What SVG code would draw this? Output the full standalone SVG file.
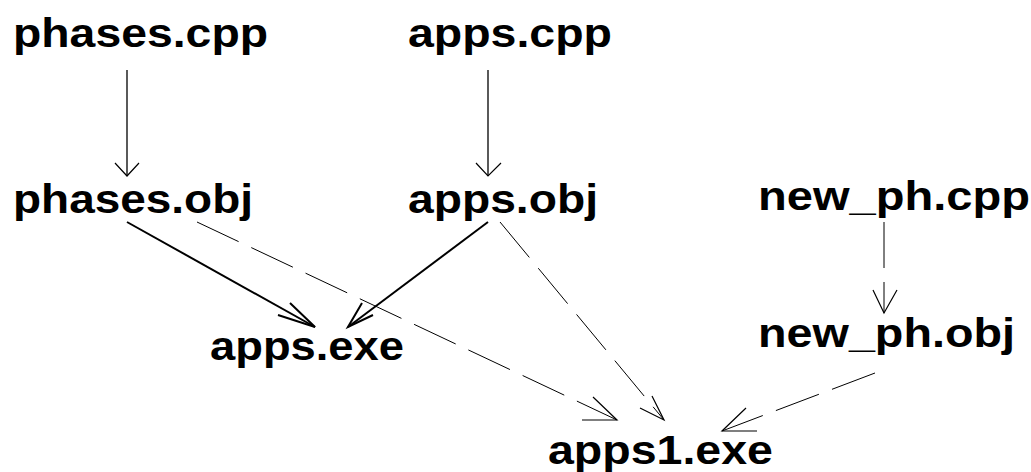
<svg xmlns="http://www.w3.org/2000/svg" width="1031" height="472" viewBox="0 0 1031 472">
<style>
  text { font-family: "Liberation Sans", Arial, sans-serif; font-weight: bold; font-size: 40px; fill: #000; }
  .solid { stroke: #000; stroke-width: 1.3; fill: none; }
  .thick { stroke: #000; stroke-width: 2; fill: none; }
  .dash { stroke: #000; stroke-width: 1; fill: none; stroke-dasharray: 46 14; }
  .head { stroke: #000; stroke-width: 1.2; fill: none; }
</style>
<rect width="1031" height="472" fill="#fff"/>
<g id="connectors">
  <line class="solid" x1="127" y1="70" x2="127" y2="176"/>
  <polyline class="head" points="115,163 127,176 139,163"/>
  <line class="solid" x1="488" y1="70" x2="488" y2="176"/>
  <polyline class="head" points="476,163 488,176 501,163"/>
  <line class="dash" x1="884" y1="222" x2="884" y2="313"/>
  <polyline class="head" points="873,290 884,313 897,290"/>
  <line class="thick" x1="127" y1="222" x2="315" y2="327"/>
  <polyline class="thick" points="290,303 315,327 278,315"/>
  <line class="thick" x1="488" y1="222" x2="348" y2="327"/>
  <polyline class="thick" points="362,303 348,327 373,315"/>
  <line class="dash" x1="197" y1="222" x2="617" y2="420"/>
  <polyline class="head" points="593,397 617,420 582,420"/>
  <line class="dash" x1="500" y1="222" x2="664" y2="420"/>
  <polyline class="head" points="652,396 664,420 640,408"/>
  <line class="dash" x1="875" y1="373" x2="722" y2="431"/>
  <polyline class="head" points="746,408 722,431 757,431"/>
</g>
<g id="phases_cpp"><text x="13" y="47" textLength="255" lengthAdjust="spacingAndGlyphs">phases.cpp</text></g>
<g id="apps_cpp"><text x="408" y="47" textLength="204" lengthAdjust="spacingAndGlyphs">apps.cpp</text></g>
<g id="phases_obj"><text x="13" y="213" textLength="240" lengthAdjust="spacingAndGlyphs">phases.obj</text></g>
<g id="apps_obj"><text x="408" y="213" textLength="190" lengthAdjust="spacingAndGlyphs">apps.obj</text></g>
<g id="new_ph_cpp"><text x="758" y="210" textLength="272" lengthAdjust="spacingAndGlyphs">new_ph.cpp</text></g>
<g id="new_ph_obj"><text x="758" y="347" textLength="257" lengthAdjust="spacingAndGlyphs">new_ph.obj</text></g>
<g id="apps_exe"><text x="210" y="360" textLength="194" lengthAdjust="spacingAndGlyphs">apps.exe</text></g>
<g id="apps1_exe"><text x="548" y="464" textLength="225" lengthAdjust="spacingAndGlyphs">apps1.exe</text></g>
</svg>
